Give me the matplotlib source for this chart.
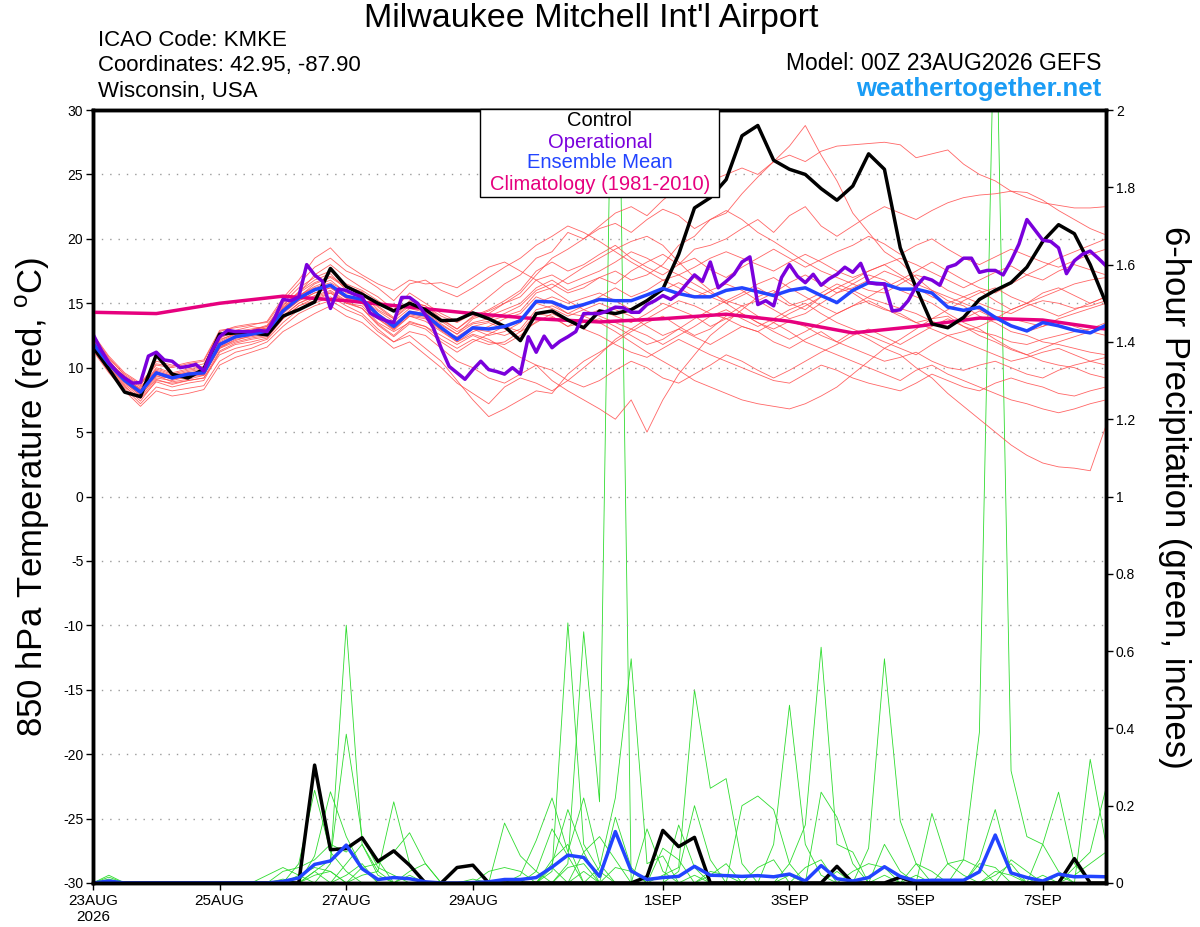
import numpy as np
import matplotlib.pyplot as plt
from matplotlib.patches import Rectangle

plt.rcParams['font.family'] = ['Liberation Sans', 'DejaVu Sans']
plt.rcParams['axes.unicode_minus'] = False

# forecast hours (GEFS 6-hourly, GFS operational 3-hourly, climatology daily)
hours6 = np.arange(65) * 6
hours3 = np.arange(129) * 3
clim_hours = np.arange(17) * 24

date_ticks = [0, 48, 96, 144, 216, 264, 312, 360]
date_labels = ['23AUG\n2026', '25AUG', '27AUG', '29AUG', '1SEP', '3SEP', '5SEP', '7SEP']

# 850 hPa temperature (C)
control_t = [11.6, 9.9, 8.1, 7.75, 11.0, 9.5, 9.2, 9.9, 12.6, 12.7, 12.7, 12.55, 14.0, 14.5, 15.1, 17.7, 16.3,
             15.7, 15.0, 14.4, 15.0, 14.5, 13.65, 13.7, 14.25, 13.8, 13.2, 12.1, 14.2, 14.4, 13.7, 13.1, 14.4,
             14.2, 14.5, 15.2, 16.1, 18.8, 22.4, 23.2, 24.6, 28.0, 28.8, 26.1, 25.4, 25.0, 23.9, 23.0, 24.1,
             26.6, 25.4, 19.3, 16.2, 13.4, 13.1, 13.9, 15.3, 16.0, 16.6, 17.8, 19.8, 21.1, 20.4, 18.0, 15.0]
mean_t = [11.9, 10.3, 9.0, 8.1, 9.6, 9.2, 9.5, 9.6, 11.8, 12.4, 12.6, 12.85, 14.4, 15.4, 16.05, 16.4, 15.55,
          15.3, 14.1, 13.2, 14.3, 14.1, 13.1, 12.2, 13.1, 13.0, 13.2, 13.65, 15.15, 15.1, 14.6, 14.9, 15.3,
          15.2, 15.2, 15.65, 16.15, 15.75, 15.5, 15.5, 16.0, 16.2, 15.9, 15.6, 16.0, 16.2, 15.6, 15.05, 16.0,
          16.6, 16.5, 16.1, 16.1, 15.8, 14.7, 14.45, 14.7, 13.9, 13.25, 12.85, 13.5, 13.25, 12.9, 12.7, 13.3]
oper_t = [12.6, 11.4, 10.4, 9.7, 9.2, 8.8, 8.85, 10.9, 11.2, 10.6, 10.5, 10.0, 10.1, 10.25, 9.75, 11.3,
          12.4, 12.9, 12.8, 12.8, 12.8, 12.9, 12.8, 13.9, 15.3, 15.2, 15.5, 18.0, 17.2, 16.7, 14.6, 16.1,
          16.0, 15.7, 15.5, 14.25, 13.9, 13.65, 13.5, 15.45, 15.45, 15.0, 14.1, 13.1, 11.5, 10.1, 9.6, 9.1,
          9.85, 10.5, 9.85, 9.7, 9.5, 10.0, 9.5, 12.4, 11.2, 12.45, 11.55, 12.05, 12.4, 12.8, 14.2, 14.2,
          14.2, 14.4, 14.7, 14.65, 14.3, 14.3, 14.9, 15.2, 15.6, 15.3, 15.75, 16.5, 17.2, 16.7, 18.2, 16.2,
          16.7, 17.25, 18.2, 18.6, 14.9, 15.2, 14.8, 17.0, 18.0, 17.1, 16.6, 17.25, 16.4, 16.9, 17.25, 17.8,
          17.4, 18.1, 16.6, 16.5, 16.5, 14.4, 14.5, 15.2, 16.3, 17.0, 16.8, 16.4, 17.8, 18.0, 18.5, 18.5,
          17.4, 17.55, 17.55, 17.2, 18.3, 19.6, 21.5, 20.7, 19.9, 19.8, 19.3, 17.3, 18.3, 18.8, 19.05, 18.5,
          17.9]
clim_t = [14.3, 14.2, 15.0, 15.55, 15.2, 14.7, 14.2, 13.8, 13.55, 13.8, 14.15, 13.6, 12.7, 13.2, 13.85, 13.7, 13.0]

temp_members = [
    [12.2, 10.6, 9.1, 8.4, 10.0, 9.6, 9.9, 10.1, 12.0, 12.6, 12.9, 13.3, 15.0, 16.2, 17.0, 17.5,
     16.5, 16.0, 15.2, 14.4, 15.0, 14.8, 14.0, 13.5, 14.2, 14.0, 14.5, 15.0, 16.2, 16.8, 16.0, 16.5,
     17.0, 17.5, 16.8, 17.2, 18.0, 19.5, 20.2, 21.5, 22.0, 23.5, 24.8, 26.0, 27.2, 28.8, 26.5, 24.5,
     22.0, 20.5, 19.0, 18.2, 17.0, 16.0, 15.2, 14.8, 14.0, 13.5, 12.8, 12.5, 12.0, 11.8, 11.5, 11.2, 11.0],
    [12.5, 10.8, 9.4, 8.6, 10.5, 10.2, 10.0, 10.3, 12.5, 12.9, 13.2, 13.0, 14.6, 15.8, 17.2, 18.0,
     17.0, 16.2, 15.5, 14.5, 15.8, 15.0, 14.2, 13.6, 14.5, 15.5, 16.5, 17.2, 18.5, 19.0, 20.5, 20.0,
     21.0, 22.0, 22.5, 21.8, 23.0, 24.0, 23.5, 24.5, 25.0, 25.5, 25.0, 26.0, 26.5, 26.0, 26.8, 27.2,
     27.3, 27.4, 27.5, 27.3, 26.3, 26.6, 26.9, 25.8, 25.0, 24.5, 23.7, 23.2, 22.8, 22.6, 22.4, 22.4, 22.5],
    [11.5, 9.8, 8.5, 7.6, 8.9, 8.5, 8.8, 9.0, 11.2, 11.8, 12.0, 12.3, 13.8, 14.8, 15.2, 15.8,
     15.0, 14.8, 13.5, 12.8, 13.5, 13.2, 12.5, 11.8, 12.5, 12.0, 11.8, 12.5, 13.6, 13.9, 13.2, 14.0,
     14.5, 14.0, 13.5, 14.2, 15.0, 14.5, 14.0, 13.2, 13.8, 14.2, 13.5, 13.0, 13.6, 13.2, 12.5, 12.0,
     12.8, 12.2, 11.5, 11.0, 10.0, 9.2, 8.0, 7.0, 6.0, 5.0, 4.0, 3.2, 2.6, 2.3, 2.2, 2.0, 5.5],
    [11.8, 10.0, 8.8, 7.9, 9.2, 9.0, 9.3, 9.5, 11.5, 12.2, 12.4, 12.6, 14.0, 15.0, 15.6, 16.0,
     15.2, 15.0, 13.8, 13.0, 14.0, 13.6, 12.8, 12.0, 12.6, 12.2, 11.5, 10.8, 10.2, 9.0, 8.2, 7.5,
     6.8, 6.0, 7.5, 5.0, 7.5, 9.5, 11.0, 12.5, 13.5, 14.5, 15.5, 16.0, 15.0, 14.5, 15.5, 16.2,
     15.8, 15.0, 14.5, 14.2, 13.5, 13.8, 14.0, 13.2, 12.8, 12.5, 12.0, 11.8, 12.2, 12.5, 12.8, 13.0, 13.5],
    [11.6, 9.9, 8.6, 7.4, 9.0, 8.8, 9.0, 9.2, 11.0, 11.5, 11.8, 12.2, 13.5, 14.5, 15.0, 15.5,
     14.8, 14.2, 13.0, 12.0, 12.5, 11.5, 10.5, 9.0, 7.5, 6.2, 6.8, 7.5, 8.2, 8.0, 9.5, 10.5,
     11.2, 12.0, 12.8, 13.5, 14.0, 13.2, 12.5, 13.0, 14.0, 14.8, 15.2, 14.5, 13.8, 14.2, 15.0, 15.8,
     16.5, 17.2, 16.8, 16.0, 15.5, 15.0, 14.2, 13.5, 13.0, 12.2, 11.5, 11.0, 10.5, 10.2, 10.0, 9.5, 9.2],
    [12.0, 10.4, 9.2, 8.2, 9.5, 9.3, 9.4, 9.8, 11.9, 12.3, 12.7, 13.0, 14.6, 15.5, 16.5, 17.0,
     16.2, 15.8, 14.5, 13.8, 14.8, 14.5, 13.6, 12.8, 13.5, 13.8, 14.2, 14.8, 16.0, 16.5, 15.8, 16.2,
     17.0, 16.5, 17.5, 18.2, 18.8, 18.0, 19.2, 19.5, 20.0, 20.8, 21.5, 20.5, 21.8, 22.5, 21.0, 20.2,
     21.0, 21.8, 22.5, 22.0, 21.5, 22.2, 22.8, 23.2, 23.4, 23.5, 23.7, 23.6, 23.0, 22.2, 21.5, 20.8, 20.3],
    [12.3, 10.5, 9.3, 8.5, 9.8, 9.4, 9.7, 9.9, 12.1, 12.7, 12.9, 13.2, 14.8, 15.9, 16.8, 17.3,
     16.0, 15.6, 14.8, 13.9, 15.2, 14.8, 13.8, 13.0, 14.0, 14.5, 15.2, 16.0, 17.5, 18.2, 17.5, 18.0,
     18.8, 19.5, 18.5, 17.8, 17.2, 18.0, 18.5, 17.6, 17.0, 17.8, 18.5, 19.2, 18.5, 17.8, 18.4, 19.0,
     19.5, 20.2, 19.6, 18.8, 19.5, 20.0, 19.2, 18.5, 18.0, 18.6, 19.2, 18.7, 18.2, 17.8, 18.3, 18.8, 19.2],
    [11.7, 10.1, 8.9, 7.8, 9.4, 8.9, 9.1, 9.4, 11.5, 12.0, 12.3, 12.5, 14.0, 15.0, 15.5, 15.9,
     15.1, 14.6, 13.4, 12.5, 13.6, 13.2, 12.2, 11.5, 12.2, 11.8, 12.0, 12.8, 14.2, 14.0, 13.2, 13.5,
     13.8, 13.2, 12.5, 11.8, 12.2, 13.0, 12.4, 11.8, 12.5, 13.2, 12.8, 12.0, 11.5, 12.2, 12.8, 12.0,
     11.5, 11.0, 10.5, 10.8, 11.2, 10.5, 10.0, 9.8, 10.2, 10.5, 10.0, 9.5, 9.2, 9.8, 10.2, 10.5, 10.8],
    [12.1, 10.2, 9.0, 8.0, 9.7, 9.1, 9.6, 9.7, 11.7, 12.5, 12.8, 13.1, 14.5, 15.6, 16.3, 16.8,
     15.8, 15.5, 14.2, 13.4, 14.4, 14.2, 13.3, 12.6, 13.8, 14.2, 15.0, 15.8, 17.2, 18.5, 19.2, 20.0,
     20.8, 21.2, 20.5, 21.5, 22.3, 21.8, 20.8, 21.5, 22.2, 21.5, 20.5, 19.8, 19.0, 18.2, 17.5, 17.0,
     16.5, 16.0, 15.8, 16.5, 17.2, 16.8, 16.0, 15.5, 15.0, 14.5, 14.2, 14.8, 15.2, 15.0, 14.6, 14.8, 15.2],
    [11.9, 10.3, 9.1, 8.3, 9.3, 9.2, 9.4, 9.5, 11.6, 12.3, 12.5, 12.7, 14.3, 15.2, 15.8, 16.2,
     15.4, 15.2, 14.0, 13.0, 14.2, 14.0, 12.9, 12.0, 12.8, 13.2, 13.8, 14.2, 15.5, 15.0, 14.2, 14.8,
     15.5, 16.2, 15.5, 16.0, 16.8, 16.2, 15.5, 16.0, 16.5, 16.0, 15.2, 15.8, 16.6, 17.2, 16.5, 15.8,
     16.2, 16.8, 17.5, 17.0, 16.2, 15.5, 15.0, 15.5, 16.0, 15.2, 14.5, 15.0, 15.8, 16.2, 15.6, 15.0, 15.5],
    [11.4, 9.7, 8.4, 7.2, 8.5, 8.2, 8.4, 8.6, 10.5, 11.2, 11.5, 12.0, 13.2, 14.2, 14.8, 15.2,
     14.5, 14.0, 12.8, 12.0, 12.8, 12.5, 11.5, 10.5, 10.0, 9.2, 8.8, 9.5, 10.2, 9.8, 9.0, 8.5,
     9.0, 9.8, 10.5, 10.0, 9.2, 8.8, 9.5, 10.2, 11.0, 10.5, 9.8, 9.2, 9.8, 10.5, 11.2, 11.8,
     12.5, 13.0, 12.4, 11.8, 12.5, 13.2, 13.8, 13.2, 12.5, 12.0, 11.4, 11.0, 11.5, 12.0, 12.4, 12.8, 13.0],
    [12.4, 10.7, 9.5, 8.7, 10.2, 10.0, 10.3, 10.5, 12.8, 13.2, 13.4, 13.5, 15.2, 16.5, 17.8, 18.5,
     17.5, 17.0, 16.2, 15.2, 16.5, 16.8, 16.0, 15.5, 16.2, 17.0, 17.8, 18.5, 19.5, 20.2, 21.0, 20.5,
     19.8, 19.0, 18.2, 17.5, 16.8, 17.2, 16.5, 15.8, 15.2, 15.8, 16.5, 17.0, 16.2, 15.5, 14.8, 14.2,
     14.8, 15.5, 16.2, 16.8, 17.5, 18.2, 17.5, 16.8, 16.2, 15.8, 16.5, 17.2, 17.8, 18.5, 19.0, 19.5, 20.0],
    [11.8, 10.2, 8.9, 8.0, 9.5, 9.1, 9.3, 9.4, 11.6, 12.1, 12.5, 12.7, 14.2, 15.2, 15.8, 16.2,
     15.4, 15.0, 13.8, 12.9, 14.0, 13.8, 12.9, 12.4, 13.2, 13.5, 13.0, 13.8, 15.0, 14.6, 14.0, 14.5,
     15.0, 14.5, 14.0, 13.2, 12.5, 13.0, 13.8, 14.5, 15.2, 14.8, 14.0, 13.5, 12.8, 12.0, 11.5, 11.0,
     10.5, 10.0, 9.5, 9.0, 9.8, 10.2, 9.5, 9.0, 8.5, 8.0, 7.5, 7.2, 6.8, 6.5, 6.8, 7.2, 7.5],
    [12.0, 10.4, 9.1, 8.1, 9.6, 9.4, 9.6, 9.8, 12.2, 12.6, 12.8, 13.0, 14.7, 15.6, 16.2, 16.6,
     15.9, 15.4, 14.4, 13.6, 14.6, 14.3, 13.4, 12.6, 13.4, 13.6, 14.0, 14.4, 15.8, 16.2, 17.0, 17.8,
     18.5, 19.2, 19.8, 20.2, 19.5, 18.2, 17.0, 16.0, 15.0, 14.2, 13.5, 12.8, 12.2, 12.8, 13.5, 14.2,
     14.8, 15.2, 14.6, 14.0, 13.5, 13.0, 12.5, 12.8, 13.2, 13.8, 14.5, 15.0, 14.5, 14.0, 14.5, 15.0, 15.5],
    [11.3, 9.6, 8.2, 7.0, 8.2, 7.8, 8.0, 8.3, 10.2, 10.8, 11.2, 11.6, 12.8, 13.5, 14.2, 14.8,
     14.0, 13.5, 12.5, 11.5, 12.0, 11.0, 10.0, 8.8, 8.0, 7.2, 8.5, 9.2, 8.8, 8.2, 9.0, 10.0,
     11.0, 12.2, 13.0, 12.5, 11.8, 12.5, 13.2, 14.0, 14.5, 13.8, 13.2, 13.8, 14.5, 15.0, 14.2, 13.5,
     13.0, 12.5, 12.0, 11.5, 11.0, 11.8, 12.5, 12.0, 11.5, 11.0, 10.5, 10.8, 11.2, 11.5, 11.0, 10.5, 10.2],
    [12.6, 10.9, 9.6, 8.8, 10.3, 10.1, 10.4, 10.6, 12.9, 13.1, 13.3, 13.6, 15.4, 16.8, 18.5, 19.3,
     18.0, 17.2, 16.5, 16.0, 16.8, 16.5, 16.6, 16.2, 17.0, 17.8, 18.2, 17.5, 16.8, 16.0, 15.2, 14.5,
     14.0, 13.5, 13.0, 13.8, 14.5, 15.2, 14.8, 14.2, 13.8, 13.2, 12.8, 13.5, 14.2, 14.8, 15.5, 16.2,
     16.8, 17.5, 18.0, 17.2, 16.5, 16.0, 15.5, 15.0, 14.5, 14.0, 13.8, 13.5, 13.2, 13.8, 14.2, 14.6, 15.0],
    [11.6, 10.0, 8.7, 7.7, 9.1, 8.7, 9.0, 9.2, 11.3, 11.9, 12.2, 12.4, 13.8, 14.8, 15.4, 15.8,
     15.0, 14.6, 13.3, 12.4, 13.4, 13.0, 12.0, 11.2, 12.0, 12.6, 13.2, 12.8, 13.5, 14.2, 13.6, 13.0,
     12.5, 11.8, 11.2, 10.8, 11.5, 12.2, 11.6, 11.0, 10.5, 10.0, 9.5, 9.0, 8.8, 9.5, 10.2, 9.8,
     9.2, 8.8, 8.5, 8.2, 8.8, 9.5, 9.0, 8.5, 8.2, 8.8, 9.2, 8.8, 8.5, 8.0, 7.8, 8.2, 8.5],
    [12.2, 10.5, 9.3, 8.3, 9.9, 9.5, 9.8, 10.0, 12.3, 12.8, 13.0, 13.2, 14.9, 15.8, 16.6, 17.1,
     16.3, 15.9, 14.7, 13.8, 15.0, 14.6, 13.7, 13.0, 13.9, 14.4, 15.0, 15.5, 16.8, 17.2, 16.5, 17.0,
     17.5, 18.2, 19.0, 18.5, 17.8, 17.2, 17.8, 18.5, 19.0, 18.5, 18.0, 17.5, 18.2, 18.8, 18.2, 17.5,
     17.0, 17.5, 18.0, 18.5, 18.0, 17.4, 16.8, 16.2, 16.8, 17.4, 17.9, 17.2, 16.8, 17.5, 18.0, 17.6, 17.2],
    [11.9, 10.2, 9.0, 8.2, 9.5, 9.2, 9.4, 9.6, 11.8, 12.4, 12.6, 12.9, 14.4, 15.4, 16.0, 16.4,
     15.6, 15.2, 14.0, 13.2, 14.2, 14.0, 13.0, 12.3, 13.0, 12.8, 12.5, 13.0, 14.5, 14.8, 14.2, 14.0,
     13.5, 12.8, 12.0, 11.2, 10.5, 9.8, 9.0, 8.5, 8.0, 7.5, 7.2, 7.0, 6.8, 7.2, 7.8, 8.5,
     9.5, 10.5, 11.5, 12.2, 13.0, 13.8, 14.5, 15.2, 15.8, 16.2, 15.5, 15.0, 15.5, 16.0, 16.5, 16.8, 17.0],
    [12.0, 10.3, 9.0, 8.0, 9.7, 9.3, 9.5, 9.7, 11.9, 12.4, 12.7, 12.8, 14.4, 15.3, 16.0, 16.3,
     15.5, 15.1, 14.0, 13.2, 14.1, 13.9, 13.0, 12.2, 13.0, 12.5, 12.8, 13.5, 15.0, 15.5, 15.0, 15.4,
     15.8, 15.2, 14.5, 15.2, 16.0, 16.6, 16.0, 15.5, 15.0, 15.6, 16.2, 15.5, 14.8, 15.2, 15.8, 16.5,
     16.0, 15.4, 15.0, 14.6, 14.2, 13.6, 13.2, 13.8, 14.4, 13.8, 13.2, 12.8, 13.2, 13.6, 13.2, 12.8, 12.5],
]

# 6-hour precipitation (inches)
control_p = [0, 0, 0, 0, 0, 0, 0, 0, 0, 0, 0, 0, 0, 0, 0.305, 0.086, 0.089,
             0.117, 0.056, 0.083, 0.046, 0, 0, 0.04, 0.046, 0, 0, 0, 0, 0, 0, 0, 0,
             0, 0, 0.016, 0.136, 0.094, 0.118, 0, 0, 0, 0, 0, 0, 0, 0, 0.043, 0,
             0, 0, 0.015, 0, 0, 0, 0, 0, 0, 0, 0, 0, 0, 0.063, 0, 0]
mean_p = [0, 0.005, 0, 0, 0, 0, 0, 0, 0, 0, 0, 0, 0.004, 0.013, 0.048, 0.057, 0.098,
          0.037, 0.009, 0.014, 0.011, 0.003, 0, 0, 0.001, 0.003, 0.009, 0.009, 0.014, 0.041, 0.072, 0.066, 0.017,
          0.133, 0.031, 0.009, 0.014, 0.017, 0.043, 0.02, 0.019, 0.017, 0.019, 0.016, 0.023, 0.005, 0.045, 0.011, 0.005,
          0.014, 0.042, 0.017, 0.005, 0.007, 0.007, 0.007, 0.029, 0.124, 0.026, 0.014, 0.005, 0.023, 0.016, 0.017, 0.016]

precip_members = [
    [0, .02, 0, 0, 0, 0, 0, 0, 0, 0, 0, 0, 0, .05, .24, .08, .03, 0, 0, 0, 0, 0, 0, 0, 0, 0, 0, 0, 0, 0, 0, 0,
     0, 0, 0, 0, 0, 0, 0, 0, 0, .2, .225, .19, .05, 0, 0, 0, 0, 0, 0, 0, 0, 0, 0, 0, 0, 0, 0, 0, .02, 0, 0, 0, 0],
    [0, .015, 0, 0, 0, 0, 0, 0, 0, 0, 0, 0, 0, 0, .07, .236, .12, .04, 0, 0, 0, 0, 0, 0, 0, 0, 0, 0, 0, .05, .19, .08,
     0, 0, 0, 0, 0, 0, 0, 0, 0, 0, 0, 0, 0, 0, .235, .17, .05, 0, 0, 0, 0, 0, 0, 0, 0, 0, 0, 0, 0, 0, 0, 0, 0],
    [0, 0, 0, 0, 0, 0, 0, 0, 0, 0, 0, 0, 0, 0, 0, .05, .667, .1, .02, 0, 0, 0, 0, 0, 0, 0, 0, 0, 0, 0, 0, 0,
     0, 0, 0, 0, 0, .03, .2, .06, 0, 0, 0, 0, 0, 0, 0, 0, 0, 0, 0, 0, 0, 0, 0, 0, .06, .19, .03, 0, 0, 0, 0, 0, 0],
    [0, 0, 0, 0, 0, 0, 0, 0, 0, 0, 0, 0, 0, 0, .03, .06, .385, .12, .06, 0, 0, 0, 0, 0, 0, 0, 0, 0, 0, 0, 0, 0,
     0, 0, 0, 0, 0, 0, 0, 0, 0, 0, 0, .1, .46, .1, .02, 0, 0, 0, 0, 0, 0, 0, 0, 0, 0, 0, 0, 0, 0, 0, 0, 0, 0],
    [0, 0, 0, 0, 0, 0, 0, 0, 0, 0, 0, 0, .03, .04, .06, .1, .08, .12, .04, .02, 0, 0, 0, 0, 0, 0, 0, 0, 0, 0, 0, 0,
     0, 0, 0, .14, .03, 0, 0, 0, 0, 0, 0, 0, 0, 0, 0, 0, 0, 0, .1, .03, 0, 0, 0, 0, 0, 0, 0, 0, 0, 0, 0, 0, 0],
    [0, 0, 0, 0, 0, 0, 0, 0, 0, 0, 0, 0, 0, 0, 0, 0, .05, .1, .03, .21, .05, 0, 0, 0, 0, 0, 0, 0, 0, 0, 0, 0,
     0, 0, 0, 0, 0, 0, 0, 0, 0, 0, 0, 0, .05, .15, .61, .1, .08, 0, 0, 0, 0, 0, 0, 0, 0, 0, 0, 0, 0, 0, 0, 0, 0],
    [0, 0, 0, 0, 0, 0, 0, 0, 0, 0, 0, 0, 0, 0, 0, 0, 0, .04, .05, .08, .13, .05, 0, 0, 0, 0, 0, 0, .03, .14, .07, 0,
     0, .17, .04, 0, 0, 0, 0, 0, 0, 0, 0, 0, 0, 0, 0, 0, 0, 0, 0, 0, 0, 0, 0, 0, 0, 0, 0, 0, .1, .235, .05, 0, 0],
    [0, 0, 0, 0, 0, 0, 0, 0, 0, 0, 0, .02, .04, .02, 0, 0, 0, 0, 0, 0, 0, 0, 0, 0, 0, 0, .155, .07, .03, 0, 0, 0,
     0, 0, 0, 0, 0, 0, 0, 0, 0, 0, 0, 0, 0, 0, 0, 0, 0, .09, .58, .16, .05, 0, 0, 0, 0, 0, 0, 0, 0, 0, 0, 0, 0],
    [0, 0, 0, 0, 0, 0, 0, 0, 0, 0, 0, 0, 0, 0, 0, 0, 0, 0, 0, 0, 0, 0, 0, 0, 0, 0, 0, .02, .11, .22, .08, .22,
     .05, 0, 0, 0, 0, 0, 0, 0, 0, 0, 0, 0, 0, 0, 0, 0, 0, 0, 0, 0, 0, .18, .05, .02, 0, 0, 0, 0, 0, 0, 0, 0, 0],
    [0, 0, 0, 0, 0, 0, 0, 0, 0, 0, 0, 0, 0, 0, 0, 0, 0, 0, 0, 0, 0, 0, 0, 0, 0, 0, 0, 0, 0, .03, .673, .1,
     .03, 0, 0, 0, 0, .15, .04, 0, 0, 0, 0, 0, 0, 0, 0, 0, 0, 0, 0, 0, 0, 0, 0, 0, 0, 0, 0, 0, 0, 0, 0, .32, .1],
    [0, 0, 0, 0, 0, 0, 0, 0, 0, 0, 0, 0, 0, 0, 0, 0, 0, 0, 0, 0, 0, 0, 0, 0, 0, 0, 0, 0, 0, 0, .05, .65,
     .21, 2.8, 0, 0, 0, 0, 0, .02, .05, 0, 0, 0, 0, 0, 0, 0, 0, 0, 0, 0, 0, 0, 0, 0, 0, 0, 0, 0, 0, 0, 0, 0, 0],
    [0, 0, 0, 0, 0, 0, 0, 0, 0, 0, 0, 0, 0, 0, 0, 0, 0, 0, 0, 0, 0, 0, 0, 0, 0, 0, 0, 0, 0, 0, 0, 0,
     .04, .22, .58, .05, .07, 0, 0, 0, 0, 0, 0, 0, 0, 0, 0, 0, 0, 0, 0, 0, 0, 0, 0, 0, 0, 0, 0, 0, 0, 0, .04, .08, .246],
    [0, 0, 0, 0, 0, 0, 0, 0, 0, 0, 0, 0, 0, 0, 0, 0, 0, 0, 0, 0, 0, 0, 0, 0, 0, 0, 0, 0, 0, 0, 0, 0,
     0, 0, 0, 0, .02, .04, .5, .245, .27, .05, 0, 0, 0, 0, 0, 0, 0, 0, 0, 0, 0, 0, 0, 0, 0, .02, .05, 0, 0, 0, 0, 0, 0],
    [0, 0, 0, 0, 0, 0, 0, 0, 0, 0, 0, 0, 0, 0, 0, 0, 0, 0, 0, 0, 0, 0, 0, 0, 0, 0, 0, 0, 0, 0, 0, 0,
     0, 0, 0, 0, 0, 0, 0, 0, 0, 0, 0, 0, 0, 0, 0, 0, 0, 0, 0, 0, 0, 0, 0, .06, .39, 2.4, .29, .12, .1, .03, 0, 0, 0],
    [0, .01, 0, 0, 0, 0, 0, 0, 0, 0, 0, 0, 0, 0, 0, 0, 0, 0, 0, 0, .03, .05, 0, 0, 0, .03, .04, .03, 0, 0, 0, 0,
     0, 0, 0, 0, 0, 0, 0, 0, 0, 0, 0, 0, 0, .04, .06, 0, 0, 0, 0, 0, .05, .03, 0, 0, 0, 0, 0, 0, 0, 0, 0, 0, 0],
    [0, 0, 0, 0, 0, 0, 0, 0, 0, 0, 0, 0, 0, 0, .02, .03, 0, 0, 0, 0, 0, 0, 0, 0, 0, 0, 0, 0, 0, 0, 0, .08,
     .12, .06, 0, 0, 0, 0, 0, 0, 0, 0, .04, .06, 0, 0, 0, 0, 0, 0, 0, 0, 0, 0, .05, .06, .04, 0, 0, 0, 0, 0, 0, 0, 0],
    [0, 0, 0, 0, 0, 0, 0, 0, 0, 0, 0, 0, 0, 0, 0, 0, .02, .05, 0, 0, 0, 0, 0, 0, .01, 0, 0, 0, 0, .06, .1, 0,
     0, 0, 0, 0, 0, 0, 0, 0, 0, 0, 0, 0, 0, 0, 0, 0, .03, .05, .04, 0, 0, 0, 0, 0, 0, 0, .06, .03, 0, 0, 0, 0, 0],
    [0, 0, 0, 0, 0, 0, 0, 0, 0, 0, 0, 0, 0, .02, .04, .03, 0, 0, 0, 0, 0, 0, 0, 0, 0, 0, 0, 0, 0, 0, 0, 0,
     0, .04, .03, 0, .09, .06, 0, 0, 0, 0, 0, 0, 0, 0, 0, 0, 0, 0, 0, 0, .02, 0, 0, 0, .05, .04, 0, 0, 0, 0, 0, 0, 0],
    [0, 0, 0, 0, 0, 0, 0, 0, 0, 0, 0, 0, .01, 0, .03, 0, 0, 0, 0, 0, .02, 0, 0, 0, 0, 0, 0, 0, 0, .04, 0, .03,
     0, 0, 0, 0, 0, 0, .02, 0, 0, 0, 0, 0, 0, 0, 0, .03, 0, 0, .02, 0, 0, 0, 0, 0, 0, 0, 0, 0, 0, 0, .02, .05, .08],
    [0, 0, 0, 0, 0, 0, 0, 0, 0, 0, 0, 0, 0, 0, 0, 0, 0, .02, .03, 0, 0, 0, 0, 0, 0, 0, 0, 0, 0, 0, .04, .05,
     0, 0, 0, 0, 0, 0, 0, .03, .02, 0, 0, 0, .02, 0, 0, 0, 0, 0, 0, 0, 0, 0, 0, 0, 0, .03, .02, 0, 0, .02, 0, 0, 0],
]

red = '#ff4a4a'
green = '#2fdc2f'
purple = '#7a00dc'
blue = '#2244ff'
magenta = '#e6007e'

fig = plt.figure(figsize=(12, 9.27), dpi=100)
axp = fig.add_axes([0.0775, 0.0475, 0.8442, 0.8338])
axt = axp.twinx()
axp.yaxis.tick_right()
axt.yaxis.tick_left()

# precipitation (right axis, drawn underneath)
for m in precip_members:
    axp.plot(hours6, m, color=green, lw=0.6)
axp.plot(hours6, control_p, color='black', lw=2.5)
axp.plot(hours6, mean_p, color=blue, lw=2.5)
axp.set_ylim(0, 2)
p_ticks = np.arange(0, 2.01, 0.2)
axp.set_yticks(p_ticks)
axp.set_yticklabels([f'{v:g}' for v in p_ticks])

# temperature (left axis)
for m in temp_members:
    axt.plot(hours6, m, color=red, lw=0.6, alpha=0.85)
axt.plot(clim_hours, clim_t, color=magenta, lw=2.5)
axt.plot(hours6, control_t, color='black', lw=2.5)
axt.plot(hours6, mean_t, color=blue, lw=2.5)
axt.plot(hours3, oper_t, color=purple, lw=2.5)
axt.set_ylim(-30, 30)
axt.set_yticks(np.arange(-30, 31, 5))
axt.grid(axis='y', color='#9a9a9a', linestyle=(0, (1, 5)), lw=1)

axp.set_xlim(0, 384)
axp.set_xticks(date_ticks)
axp.set_xticklabels(date_labels)

for ax in (axp, axt):
    for s in ax.spines.values():
        s.set_linewidth(2.5)
    ax.tick_params(axis='both', direction='out', length=5, width=1, labelsize=10, pad=2)
axp.tick_params(axis='x', labelsize=11, pad=3)

# header texts
fig.text(591 / 1200, 1 - 19 / 927, "Milwaukee Mitchell Int'l Airport", ha='center', va='center', fontsize=24.5)
fig.text(98 / 1200, 1 - 40 / 927, 'ICAO Code: KMKE', ha='left', va='center', fontsize=16)
fig.text(98 / 1200, 1 - 66 / 927, 'Coordinates: 42.95, -87.90', ha='left', va='center', fontsize=16)
fig.text(98 / 1200, 1 - 92 / 927, 'Wisconsin, USA', ha='left', va='center', fontsize=16)
fig.text(1101 / 1200, 1 - 64 / 927, 'Model: 00Z 23AUG2026 GEFS', ha='right', va='center', fontsize=16.5)
fig.text(1101 / 1200, 1 - 89 / 927, 'weathertogether.net', ha='right', va='center', fontsize=18.5,
         fontweight='bold', color='#1a9cf5')

# axis titles
fig.text(33 / 1200, 1 - 497 / 927, r'850 hPa Temperature (red, $^\mathregular{o}$C)', rotation=90,
         ha='center', va='center', fontsize=25)
fig.text(1175 / 1200, 1 - 497 / 927, '6-hour Precipitation (green, inches)', rotation=-90,
         ha='center', va='center', fontsize=25)

# legend box
fig.add_artist(Rectangle((480 / 1200, 1 - 197 / 927), 239 / 1200, 88 / 927, transform=fig.transFigure,
                         facecolor='white', edgecolor='black', lw=1, zorder=5))
legend_labels = ['Control', 'Operational', 'Ensemble Mean', 'Climatology (1981-2010)']
legend_colors = ['black', purple, blue, magenta]
legend_y = [121, 142, 163, 185]
for lab, col, yy in zip(legend_labels, legend_colors, legend_y):
    fig.text(600 / 1200, 1 - yy / 927, lab, color=col, ha='center', va='center', fontsize=14.5, zorder=6)

fig.savefig('out.png', dpi=100)
